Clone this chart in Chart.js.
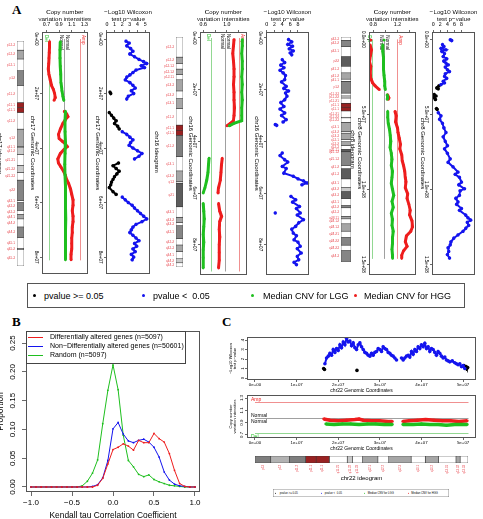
<!DOCTYPE html>
<html>
<head>
<meta charset="utf-8">
<title>CNV / Wilcoxon figure</title>
<script src="https://cdn.jsdelivr.net/npm/chart.js@4.4.1/dist/chart.umd.min.js"></script>
<style>
  html, body { margin: 0; padding: 0; background: #fff; }
  body { position: relative; width: 483px; height: 519px; overflow: hidden; font-family: "Liberation Sans", Arial, sans-serif; }
  canvas { position: absolute; }
  .tag { position: absolute; font: bold 13px "Liberation Serif", "Times New Roman", serif; line-height: 13px; }
  .key { position: absolute; border: 1px solid #555; box-sizing: border-box; white-space: pre; transform-origin: 0 0; background: #fff; }
  .key span { position: absolute; top: 50%; transform: translateY(-50%); line-height: 1; }
  .key i { position: absolute; top: 50%; border-radius: 50%; }
</style>
</head>
<body>
<div class="tag" style="left:12px;top:3px">A</div>
<div class="tag" style="left:12px;top:315px">B</div>
<div class="tag" style="left:222px;top:315px">C</div>
<script>
/* ============================================
   Figure: CNV medians, Wilcoxon p-values, ideograms
   Panel A plots are drawn landscape and turned 90deg
   ============================================ */

// --- Panel B: Kendall tau distribution ---
const tauBins = [-1, -0.9375, -0.875, -0.8125, -0.75, -0.6875, -0.625, -0.5625, -0.5, -0.4375, -0.375,
  -0.3125, -0.25, -0.1875, -0.125, -0.0625, 0, 0.0625, 0.125, 0.1875, 0.25, 0.3125, 0.375, 0.4375,
  0.5, 0.5625, 0.625, 0.6875, 0.75, 0.8125, 0.875, 0.9375, 1];
const diffProp = [0, 0, 0, 0, 0, 0, 0, 0, 0, 0, 0, 0, 0, 0.003, 0.015, 0.04, 0.065, 0.069, 0.075, 0.071,
  0.064, 0.081, 0.077, 0.077, 0.093, 0.084, 0.078, 0.058, 0.029, 0.006, 0.001, 0, 0];
const nonDiffProp = [0, 0, 0, 0, 0, 0, 0, 0, 0, 0, 0, 0, 0.001, 0.004, 0.016, 0.046, 0.101, 0.112, 0.092,
  0.08, 0.077, 0.081, 0.083, 0.078, 0.069, 0.052, 0.026, 0.012, 0.005, 0.002, 0.001, 0, 0];
const randomProp = [0, 0, 0, 0, 0, 0, 0, 0, 0, 0, 0.002, 0.01, 0.024, 0.047, 0.11, 0.168, 0.212, 0.169,
  0.09, 0.046, 0.035, 0.022, 0.018, 0.021, 0.013, 0.009, 0.006, 0.003, 0.002, 0.001, 0, 0, 0];
const seriesNames = ['Differentially altered genes (n=5097)', 'Non\u2212Differentially altered genes (n=50601)', 'Random (n=5097)'];
const tauTicks = [-1, -0.5, 0, 0.5, 1];
const tauTickLabels = ['\u22121.0', '\u22120.5', '0.0', '0.5', '1.0'];
const propTicks = [0, 0.05, 0.1, 0.15, 0.2, 0.25];
const propTickLabels = ['0.00', '0.05', '0.10', '0.15', '0.20', '0.25'];

// --- chr17 (Mb, value) ---
const chr17Hgg = [[1,0.75],[3,0.75],[5,0.745],[7,0.74],[9,0.735],[11,0.73],[13,0.74],[15,0.76],[17,0.78],[18.5,0.81],[20,0.83],[21.5,0.84],[22.5,0.82],null,
  [26.5,0.98],[27.5,1.02],[28.5,1.04],[29.5,1.0],[31,0.96],[33,0.92],[35,0.89],[36.5,0.9],[37.5,0.95],[38.5,1.0],[39.5,1.03],[40.5,0.98],[42,0.92],[44,0.88],
  [45.5,0.89],[47,0.93],[48.5,0.97],[50,1.0],[51.5,1.02],[53,1.05],[55,1.08],[57,1.1],[59,1.12],[61,1.12],[63,1.11],[65,1.12],[67,1.12],[69,1.11],[71,1.11],
  [73,1.1],[75,1.1],[77,1.1],[79,1.09],[81,1.09]];
const chr17Lgg = [[1,0.92],[4,0.915],[7,0.915],[10,0.92],[13,0.925],[16,0.93],[19,0.945],[21,0.96],[22.5,0.975],null,
  [26.5,1.0],[30,0.995],[34,0.995],[38,1.0],[42,0.995],[46,0.99],[50,0.995],[54,1.0],[58,1.0],[62,1.0],[66,1.005],[70,1.0],[74,1.0],[78,1.0],[81,1.0]];
const chr17Sig = [[0.8,2.5],[1.5,2.9],[2.5,2.6],[3.5,3.1],[4.5,3.4],[5.5,3.0],[6.5,3.6],[7.5,4.2],[8.3,4.8],[9,5.2],[9.8,4.5],[10.5,4.9],[11.4,3.8],[12.3,3.4],
  [13.2,3.0],[14,2.6],[15,2.4],[16,3.0],[17,3.4],[18,3.7],[19,3.2],[20,3.5],[21,2.8],[22,2.6],null,
  [34,2.0],[35,2.6],[36,3.0],[37,3.4],[38,3.1],[39,2.9],[40,3.4],[41,4.0],[42,4.6],[43,4.2],[44,3.6],null,
  [58,2.0],[59,2.4],[60,2.8],[61,3.3],[62,3.6],[63,4.0],[64,4.4],[65,4.8],[66,5.2],[67,4.6],[68,3.8],[69,3.4],[70,3.2],[71,3.0],[72,3.4],[73,3.8],[74,4.2],
  [75,3.6],[76,3.9],[77,3.4],[78,3.7],[79,3.2],[80,3.5],[81,3.3]];
const chr17NotSig = [[19.5,0.4],[20,0.5],null,[27,0.3],[28,0.6],[29,0.9],[30,1.2],[31,1.0],[32,1.4],[33,1.6],null,
  [45.5,1.5],[46.5,0.8],[47.5,1.2],[48.5,1.6],[49.5,1.3],[50.5,1.0],[51.5,0.8],[52.5,0.6],[53.5,0.5],[54.5,0.3],[56,0.8],[57,1.2]];
const chr17Ref = [0.75, 1.0, 1.24];
const chr17Ticks = [0, 20, 40, 60, 80];
const chr17TickLabels = ['0e+00', '2e+07', '4e+07', '6e+07', '8e+07'];
const chr17Bands = ['p13.3','p13.2','p13.1','p12','p11.2','p11.1','q11.1','q11.2','q12','q21.1','q21.2','q21.31','q21.32','q21.33','q22','q23.1','q23.2','q23.3','q24.1','q24.2','q24.3','q25.1','q25.2','q25.3'];
const chr17Start = [0,3.3,6.5,10.7,16.0,22.2,24.0,25.8,31.8,38.1,38.4,40.9,44.9,47.4,50.2,57.6,58.3,61.1,62.6,64.2,67.1,70.9,74.8,75.3];
const chr17End = [3.3,6.5,10.7,16.0,22.2,24.0,25.8,31.8,38.1,38.4,40.9,44.9,47.4,50.2,57.6,58.3,61.1,62.6,64.2,67.1,70.9,74.8,75.3,81.2];
const chr17Stain = ['gneg','gpos50','gneg','gpos75','gneg','acen','acen','gneg','gpos50','gneg','gpos25','gneg','gpos25','gneg','gpos75','gneg','gpos75','gneg','gpos50','gneg','gpos75','gneg','gpos25','gneg'];

// --- chr16 ---
const chr16Hgg = [[0.6,1.12],[3,1.11],[6,1.1],[9,1.11],[12,1.12],[15,1.12],[18,1.11],[21,1.12],[24,1.12],[27,1.13],[30,1.12],[32,1.11],[33,1.06],[34,1.0],null,
  [46.5,0.92],[49,0.91],[52,0.9],[55,0.89],[58,0.86],[60,0.85],null,[64,0.86],[67,0.88],[69,0.91],[71,0.88],[74,0.87],[77,0.88],[80,0.87],[83,0.87],[86,0.87],[89,0.86]];
const chr16Lgg = [[0.6,1.26],[3,1.26],[6,1.25],[9,1.26],[12,1.26],[15,1.25],[18,1.26],[21,1.25],[24,1.26],[27,1.25],[30,1.25],[32,1.25],[33,1.12],[34,1.04],null,
  [46.5,0.7],[49,0.69],[52,0.68],[55,0.66],[58,0.63],[60,0.6],null,[64,0.6],[67,0.61],[70,0.62],[73,0.61],[76,0.6],[79,0.61],[82,0.6],[85,0.6],[89,0.6]];
const chr16Sig = [[0.6,5.6],[1.5,6.4],[2.5,5.4],[3.2,6.6],[4.2,5.8],[5,6.8],[5.8,6.0],[6.5,6.4],null,
  [8.4,4.0],[9.5,4.6],[10.5,3.6],[11.5,4.4],[12.5,3.4],[13.5,4.2],[14.5,4.8],[16.1,4.6],[17,3.8],[18.7,5.0],[19.5,4.4],[20.5,5.6],[21.3,4.8],[22.5,5.2],
  [23.9,4.6],[25,3.6],[26.5,4.4],[27.5,3.4],[29,4.6],[30,3.8],[31.6,5.0],[32.5,4.2],null,[33.5,2.2],[33.8,2.6],null,
  [44.5,4.0],[45.5,3.4],[47.1,4.6],[48,5.4],[49.7,4.0],[50.5,5.0],[52.3,4.4],[53.5,6.8],[54.5,8.0],[55.3,9.4],[56.1,10.4],[56.8,9.0],null,
  [61.3,6.2],[62.6,7.4],[63.5,6.6],[65.2,8.4],[66,7.6],[67.7,8.6],[68.5,7.8],[70.3,9.4],[71.5,8.2],[72.9,7.4],[74,6.4],[75.5,6.8],[76.5,7.6],[78.1,7.0],
  [79,8.0],[80.6,8.6],[81.5,7.8],[83.2,8.8],[84.5,7.8],[85.8,8.2],[86.8,7.0],[87.7,7.6],null,[67.7,2.2]];
const chr16Ref = [0.744, 0.99, 1.224];
const chr16Ticks = [0, 20, 40, 60, 80];
const chr16TickLabels = ['0e+00', '2e+07', '4e+07', '6e+07', '8e+07'];
const chr16Bands = ['p13.3','p13.2','p13.13','p13.12','p13.11','p12.3','p12.2','p12.1','p11.2','p11.1','q11.1','q11.2','q12.1','q12.2','q13','q21','q22.1','q22.2','q22.3','q23.1','q23.2','q23.3','q24.1','q24.2','q24.3'];
const chr16Start = [0,7.9,10.5,12.6,14.8,16.8,21.2,24.2,28.1,34.6,36.6,38.6,47.0,52.6,56.7,57.4,66.7,70.8,72.9,74.1,79.2,81.7,84.2,87.1,88.7];
const chr16End = [7.9,10.5,12.6,14.8,16.8,21.2,24.2,28.1,34.6,36.6,38.6,47.0,52.6,56.7,57.4,66.7,70.8,72.9,74.1,79.2,81.7,84.2,87.1,88.7,90.35];
const chr16Stain = ['gneg','gpos50','gneg','gpos50','gneg','gpos50','gneg','gpos50','gneg','acen','acen','gvar','gneg','gpos50','gneg','gpos100','gneg','gpos50','gneg','gpos75','gneg','gpos50','gneg','gpos25','gneg'];

// --- chr8 ---
const chr8Hgg = [[0.5,0.76],null,[3.7,0.75],[7,0.77],[11.5,0.75],[15,0.74],[18,0.76],[22,0.75],[26,0.76],[29,0.79],[31,0.83],[33.5,0.9],null,
  [37,1.04],[39,1.06],[40,1.05],null,[48,1.16],[51,1.18],[55,1.17],[59,1.2],[62,1.21],[66,1.23],[70,1.25],[73,1.24],[77,1.27],[81,1.28],[84,1.3],[88,1.32],
  [92,1.33],[95,1.34],[99,1.33],[103,1.37],[106,1.36],[110,1.39],[114,1.41],[117,1.4],[121,1.44],[125,1.45],[128,1.42],[131,1.35],[135,1.33],[138,1.36],
  [141,1.3],[144,1.27],[146,1.27]];
const chr8Lgg = [[0.5,0.98],null,[3.7,0.96],[8,0.96],[12,0.97],[16,0.97],[20,0.97],[24,0.98],[28,0.99],[31,0.99],[33.5,1.0],null,[37,1.03],[39,1.04],[40,1.03],null,
  [48,1.04],[52,1.04],[56,1.05],[60,1.07],[64,1.08],[68,1.09],[72,1.08],[76,1.1],[80,1.11],[84,1.1],[88,1.12],[92,1.11],[96,1.1],[100,1.12],[104,1.14],
  [108,1.11],[112,1.13],[116,1.1],[120,1.12],[124,1.11],[128,1.13],[132,1.12],[136,1.12],[140,1.11],[144,1.12],[146,1.12]];
const chr8Sig = [[0.3,4.8],[0.8,5.2],null,[3.5,2.6],[4.8,3.0],[6,2.2],[7,3.6],[8,2.4],[9.5,3.2],[11.5,2.8],[13,3.8],[14.5,3.0],[15.9,3.6],[17,4.2],[18.5,3.4],
  [20.3,4.0],[21.5,4.6],[23,3.4],[24.7,3.2],[26,3.8],[28,2.8],[29,3.2],[30.2,2.2],null,
  [48.9,1.4],[51,2.2],[53.3,1.8],[56,2.6],[59,3.0],[62.1,3.6],[65,2.8],[68,3.4],[70.9,4.0],[73,3.2],[76,4.0],[79.7,4.8],[82,4.2],[85,5.6],[88.5,7.0],[90,6.2],
  [92,7.4],[95.2,8.0],[97,7.2],[99.6,8.8],[101,7.6],[104,7.4],[106,6.4],[108.4,7.0],[110,6.6],[112.8,8.0],[114,7.4],[117.2,9.2],[119,9.8],[120.5,10.6],
  [122,9.6],[124,10.0],[126,9.2],[128,8.4],[130.4,7.0],[132.6,5.8],[135,5.0],[137,4.8],[139,4.2],[141.4,4.4],[143.5,4.0],[145.8,4.6]];
const chr8NotSig = [[31,1.6],[32.4,1.0],[33,1.4],null,[36.8,0.3],[37.8,0.8],[38.8,0.2],[40.1,0.6],null,[46.2,0.9],[46.7,1.1]];
const chr8Ref = [0.79, 1.0, 1.21];
const chr8Ticks = [0, 50, 100, 150];
const chr8TickLabels = ['0.0e+00', '5.0e+07', '1.0e+08', '1.5e+08'];
const chr8Bands = ['p23.3','p23.2','p23.1','p22','p21.3','p21.2','p21.1','p12','p11.23','p11.22','p11.21','p11.1','q11.1','q11.21','q11.22','q11.23','q12.1','q12.2','q12.3','q13.1','q13.2','q13.3','q21.11','q21.12','q21.13','q21.2','q21.3','q22.1','q22.2','q22.3','q23.1','q23.2','q23.3','q24.11','q24.12','q24.13','q24.21','q24.22','q24.23','q24.3'];
const chr8Start = [0,2.2,6.2,12.7,19.0,23.3,27.4,28.8,36.5,38.3,39.7,43.1,45.6,48.1,52.2,52.6,55.5,61.6,62.5,66.6,68.1,70.6,73.1,74.6,74.7,83.5,85.6,92.3,97.9,100.5,105.1,109.6,111.1,116.7,118.3,121.5,126.3,130.4,135.4,138.9];
const chr8End = [2.2,6.2,12.7,19.0,23.3,27.4,28.8,36.5,38.3,39.7,43.1,45.6,48.1,52.2,52.6,55.5,61.6,62.5,66.6,68.1,70.6,73.1,74.6,74.7,83.5,85.6,92.3,97.9,100.5,105.1,109.6,111.1,116.7,118.3,121.5,126.3,130.4,135.4,138.9,146.36];
const chr8Stain = ['gneg','gpos75','gneg','gpos100','gneg','gpos50','gneg','gpos75','gneg','gpos25','gneg','acen','acen','gneg','gpos75','gneg','gpos50','gneg','gpos50','gneg','gpos50','gneg','gpos100','gneg','gpos75','gneg','gpos100','gneg','gpos25','gpos100','gneg','gpos75','gneg','gpos50','gneg','gpos50','gneg','gpos75','gneg','gpos75'];

// --- chr22 (panel C) ---
const chr22Hgg = [[16.5,0.96],[18,0.94],[20,0.93],[22,0.94],[24,0.95],[25,0.96],[26,0.94],[28,0.93],[30,0.93],[32,0.92],[33,0.92],null,
  [35.5,0.92],[37,0.93],[39,0.94],[41,0.95],[43,0.94],[45,0.93],[47,0.93],[49,0.92],[51,0.93]];
const chr22Lgg = [[17,0.88],[19,0.87],[21,0.88],[23,0.88],[25,0.87],[27,0.88],[29,0.88],[31,0.87],[33,0.87],null,
  [35.5,0.87],[38,0.87],[40,0.88],[42,0.87],[44,0.87],[46,0.86],[48,0.87],[51,0.87]];
const chr22Sig = [[16.8,1.5],[17.2,2.1],[17.6,2.3],[18,2.6],[18.4,2.4],[18.8,3.0],[19.2,2.7],[19.6,3.1],[20,2.9],[20.4,3.5],[20.8,3.2],[21.2,3.8],[21.6,3.5],
  [22,4.2],[22.4,3.8],[22.8,3.9],[23.2,3.4],[23.6,3.7],[24,3.2],[24.4,3.0],[24.8,3.5],[25.2,3.7],[25.6,3.3],[26,3.0],[26.4,2.7],[26.8,2.6],[27.2,2.4],
  [27.6,2.3],[28,2.6],[28.4,2.4],[28.8,2.7],[29.2,2.8],[29.6,3.1],[30,3.0],[30.4,2.8],[30.8,3.3],[31.2,3.1],[31.6,3.0],[32,2.7],[32.4,2.6],[32.8,2.4],
  [33.2,2.3],[33.6,2.1],[34,1.9],null,[35.2,2.1],[35.6,1.9],[36,2.1],[36.4,2.3],[36.8,2.4],[37.2,2.2],[37.6,2.8],[38,2.5],[38.4,3.0],[38.8,2.8],[39.2,3.3],
  [39.6,3.1],[40,3.5],[40.4,3.3],[40.8,3.65],[41.2,3.1],[41.6,3.3],[42,2.8],[42.4,3.1],[42.8,3.0],[43.2,2.7],[43.6,2.4],[44,2.8],[44.4,2.6],[44.8,2.3],
  [45.2,2.1],[45.6,2.2],[46,1.9],[46.4,1.8],[46.8,1.7],[47.4,1.8],[48,1.6],[48.4,1.5],[48.8,1.4],[49.2,1.5],[49.6,1.2],[50,1.3],[50.4,1.0]];
const chr22NotSig = [[16.5,1.0],[16.7,0.9],null,[24.5,0.8],null,[50.2,1.3],[50.5,1.1],[50.7,1.2],[50.9,1.0],[51.1,1.1]];
const chr22Ref = [0.73, 0.98, 1.24];
const chr22Ticks = [0, 10, 20, 30, 40, 50];
const chr22TickLabels = ['0e+00', '1e+07', '2e+07', '3e+07', '4e+07', '5e+07'];
const chr22Bands = ['p13','p12','p11.2','p11.1','q11.1','q11.21','q11.22','q11.23','q12.1','q12.2','q12.3','q13.1','q13.2','q13.31','q13.32','q13.33'];
const chr22Start = [0,3.8,8.3,12.2,14.7,17.9,22.2,23.5,25.9,29.6,32.2,37.6,41.0,44.2,48.4,49.4];
const chr22End = [3.8,8.3,12.2,14.7,17.9,22.2,23.5,25.9,29.6,32.2,37.6,41.0,44.2,48.4,49.4,51.3];
const chr22Stain = ['gvar','stalk','gvar','acen','acen','gneg','gpos25','gneg','gpos50','gneg','gpos50','gneg','gpos50','gneg','gpos50','gneg'];

// --- legend ---
const keyLabels = ['pvalue >= 0.05', 'pvalue <  0.05', 'Median CNV for LGG', 'Median CNV for HGG'];

// ---------- styling ----------
const FONT = '"Liberation Sans", Arial, Helvetica, sans-serif';
Chart.defaults.font.family = FONT;
Chart.defaults.color = '#000';
Chart.defaults.animation = false;

const RED = '#ee1d1d', GREEN = '#1fbf1f', BLUE = '#1414ee', BLACK = '#000000';
const BAND_RED = '#e8484f';
const STAIN = { gneg: '#ffffff', gpos25: '#cacaca', gpos50: '#a6a6a6', gpos75: '#858585', gpos100: '#5c5c5c', acen: '#992222', gvar: '#7e7e7e', stalk: '#b2b2b2' };
const keyColors = [BLACK, BLUE, GREEN, RED];
const cnvTitle = ['Copy number', 'variation intensities'];
const pvTitle = ['\u2212Log10 Wilcoxon', 'test p\u2212value'];

// --- plugins ---
const boxPlugin = {
  id: 'rBox',
  afterDatasetsDraw(chart) {
    const { ctx, chartArea: a } = chart;
    ctx.save();
    ctx.strokeStyle = '#555';
    ctx.lineWidth = 1;
    const l = Math.round(a.left), t = Math.round(a.top);
    ctx.strokeRect(l + 0.5, t + 0.5, Math.round(a.right) - l - 1, Math.round(a.bottom) - t - 1);
    ctx.restore();
  }
};

const refLinePlugin = {
  id: 'refLines',
  beforeDatasetsDraw(chart, args, o) {
    if (!o.lines) return;
    const { ctx, scales: { x, y } } = chart;
    const x0 = x.getPixelForValue(o.from), x1 = x.getPixelForValue(o.to);
    ctx.save();
    ctx.font = `${o.size}px ${FONT}`;
    o.lines.forEach(l => {
      const py = Math.round(y.getPixelForValue(l.value)) + 0.5;
      ctx.strokeStyle = l.color;
      ctx.lineWidth = 1;
      ctx.beginPath(); ctx.moveTo(x0, py); ctx.lineTo(x1, py); ctx.stroke();
      l.labels.forEach(t => {
        ctx.fillStyle = t.color;
        ctx.textBaseline = t.above ? 'bottom' : 'top';
        ctx.fillText(t.text, x0 + o.dx, t.above ? py - 0.5 : py + 1);
      });
    });
    ctx.restore();
  }
};

const insetKeyPlugin = {
  id: 'insetKey',
  afterDatasetsDraw(chart, args, o) {
    if (!o.rows) return;
    const { ctx, chartArea: a } = chart;
    const x = Math.round(a.left) + 0.5, y = Math.round(a.top) + 0.5;
    ctx.save();
    ctx.fillStyle = '#fff';
    ctx.fillRect(x, y, o.width, o.height);
    ctx.strokeStyle = '#444';
    ctx.lineWidth = 1;
    ctx.strokeRect(x, y, o.width, o.height);
    ctx.font = `${o.size}px ${FONT}`;
    ctx.textBaseline = 'middle';
    chart.data.datasets.forEach((ds, i) => {
      const ry = Math.round(a.top + o.rows[i]) + 0.5;
      ctx.strokeStyle = ds.borderColor;
      ctx.beginPath(); ctx.moveTo(a.left + o.lineFrom, ry); ctx.lineTo(a.left + o.lineTo, ry); ctx.stroke();
      ctx.fillStyle = '#000';
      ctx.fillText(ds.label, a.left + o.textX, ry);
    });
    ctx.restore();
  }
};

// --- helpers ---
// canvas in page coordinates; turned ones are drawn landscape (w/h swapped) then rotated clockwise
function canvasAt(left, top, w, h, turned) {
  const c = document.createElement('canvas');
  const cw = turned ? h : w, ch = turned ? w : h;
  c.width = cw; c.height = ch;
  c.style.width = cw + 'px'; c.style.height = ch + 'px';
  c.style.left = left + 'px'; c.style.top = top + 'px';
  if (turned) {
    c.style.transformOrigin = '0 0';
    c.style.transform = `translateX(${w}px) rotate(90deg)`;
  }
  document.body.appendChild(c);
  return c;
}

function pts(pairs) {
  return pairs.map(p => p ? { x: p[0], y: p[1] } : { x: null, y: null });
}

// dense dot cloud (p-values)
function cloud(pairs, color) {
  return { data: pts(pairs), showLine: true, spanGaps: false, borderColor: color, borderWidth: 2,
    pointRadius: 1.8, pointBackgroundColor: color, pointBorderWidth: 0 };
}

// median CNV trace
function trace(pairs, color, w) {
  return { data: pts(pairs), showLine: true, spanGaps: false, borderColor: color, borderWidth: w || 3,
    pointRadius: 1.4, pointBackgroundColor: color, pointBorderWidth: 0 };
}

function refSet(vals, from, to, size) {
  const [del, normal, amp] = vals;
  return {
    from, to, size, dx: -4,
    lines: [
      { value: del, color: '#92d892', labels: [{ text: 'Del', color: GREEN, above: false }] },
      { value: normal, color: '#a0a0a0', labels: [{ text: 'Normal', color: BLACK, above: true }, { text: 'Normal', color: BLACK, above: false }] },
      { value: amp, color: '#f09090', labels: [{ text: 'Amp', color: RED, above: true }] }
    ]
  };
}

// R-like axis: outside ticks, fixed band size, explicit tick values
function rAxis(o, vertical) {
  return {
    type: 'linear', min: o.min, max: o.max, bounds: 'data',
    afterBuildTicks: s => { s.ticks = o.ticks.map(v => ({ value: v })); },
    afterFit: s => { if (vertical) s.width = o.size; else s.height = o.size; },
    grid: { drawOnChartArea: false, tickLength: o.tick ?? 2, color: '#444', lineWidth: 0.8 },
    border: { display: false },
    ticks: {
      autoSkip: false, padding: o.pad ?? 1, font: { size: o.fs },
      minRotation: vertical ? 90 : 0, maxRotation: vertical ? 90 : 0,
      crossAlign: vertical ? 'center' : 'near',
      callback: (v, i) => o.labels[i]
    },
    title: { display: !!o.title, text: o.title, font: { size: o.tfs, lineHeight: o.tlh ?? 1.2 }, padding: o.tpad ?? 0 }
  };
}

function rScatter(canvas, { datasets, x, y, padding, ref }) {
  return new Chart(canvas, {
    type: 'scatter',
    data: { datasets },
    options: {
      responsive: false, devicePixelRatio: 1, animation: false, events: [],
      layout: { padding },
      plugins: { legend: { display: false }, tooltip: { enabled: false }, refLines: ref || {} },
      scales: { x: rAxis(x, false), y: rAxis(y, true) }
    },
    plugins: [refLinePlugin, boxPlugin]
  });
}

function ideogram(canvas, { names, starts, ends, stains, len, padding, size, fs, title, tfs, tpad, topTitle, topSize, topPad }) {
  const mids = starts.map((s, i) => (s + ends[i]) / 2);
  const scales = {
    x: {
      type: 'linear', min: 0, max: len, position: 'bottom', bounds: 'data',
      afterBuildTicks: s => { s.ticks = mids.map(v => ({ value: v })); },
      afterFit: s => { s.height = size; },
      grid: { display: false, drawTicks: false },
      border: { display: false },
      ticks: { autoSkip: false, color: BAND_RED, font: { size: fs }, padding: 2, minRotation: 90, maxRotation: 90, callback: (v, i) => names[i] },
      title: { display: !!title, text: title, font: { size: tfs }, padding: tpad || 0 }
    },
    y: { display: false }
  };
  if (topTitle) {
    scales.x2 = {
      type: 'linear', min: 0, max: len, position: 'top',
      afterFit: s => { s.height = topSize; },
      grid: { display: false, drawTicks: false }, border: { display: false },
      ticks: { display: false },
      title: { display: true, text: topTitle, font: { size: tfs }, padding: topPad || 0 }
    };
  }
  return new Chart(canvas, {
    type: 'bar',
    data: {
      labels: [''],
      datasets: starts.map((s, i) => ({
        data: [[s, ends[i]]], backgroundColor: STAIN[stains[i]],
        borderColor: '#333', borderWidth: 0.6, borderSkipped: false,
        grouped: false, barPercentage: 1, categoryPercentage: 1
      }))
    },
    options: {
      indexAxis: 'y', responsive: false, devicePixelRatio: 1, animation: false, events: [],
      layout: { padding },
      plugins: { legend: { display: false }, tooltip: { enabled: false } },
      scales
    }
  });
}

function keyBox(left, top, w, h, fs, dotX, textX, dot, scale) {
  const d = document.createElement('div');
  d.className = 'key';
  Object.assign(d.style, { left: left + 'px', top: top + 'px', width: w + 'px', height: h + 'px', fontSize: fs + 'px' });
  if (scale) d.style.transform = `scale(${scale})`;
  keyLabels.forEach((t, i) => {
    const b = document.createElement('i');
    Object.assign(b.style, { left: (dotX[i] - dot / 2) + 'px', width: dot + 'px', height: dot + 'px', marginTop: (-dot / 2) + 'px', background: keyColors[i] });
    const s = document.createElement('span');
    s.textContent = t;
    s.style.left = textX[i] + 'px';
    d.appendChild(b); d.appendChild(s);
  });
  document.body.appendChild(d);
}

// ---------- panel A ----------
const genomeAxis = (min, max, ticks, labels, title, size) =>
  ({ min, max, ticks, labels, size, fs: 4.6, tick: 2, pad: 0.5, title, tfs: 6, tpad: 0.6 });
const valueAxis = (min, max, ticks, labels, title, pad) =>
  ({ min, max, ticks, labels, size: 32, fs: 5.3, tick: 2, pad, title, tfs: 6.2, tlh: 1.13, tpad: 8.5 });

function chromosomeColumn(c) {
  ideogram(canvasAt(c.id.left, 0, c.id.w, 280, true), {
    names: c.bands, starts: c.start, ends: c.end, stains: c.stain, len: c.end[c.end.length - 1],
    padding: c.id.padding, size: c.id.size, fs: 3.3, title: c.id.title, tfs: 6, tpad: c.id.tpad,
    topTitle: c.id.topTitle, topSize: c.id.topSize, topPad: c.id.topPad
  });
  rScatter(canvasAt(c.cnv.left, 0, c.cnv.w, 280, true), {
    datasets: [trace(c.lgg, GREEN), trace(c.hgg, RED)],
    x: genomeAxis(c.gmin, c.gmax, c.ticks, c.tickLabels, c.gtitle, c.cnv.size),
    y: valueAxis(c.cnv.min, c.cnv.max, c.cnv.ticks, c.cnv.labels, cnvTitle, 1.3),
    padding: c.cnv.padding,
    ref: refSet(c.ref, 0, c.end[c.end.length - 1], 4.6)
  });
  rScatter(canvasAt(c.pv.left, 0, c.pv.w, 280, true), {
    datasets: [cloud(c.sig, BLUE), cloud(c.notSig, BLACK)],
    x: genomeAxis(c.gmin, c.gmax, c.ticks, c.tickLabels, c.gtitle, c.pv.size),
    y: valueAxis(c.pv.min, c.pv.max, c.pv.ticks, c.pv.ticks.map(String), pvTitle, 3.5),
    padding: c.pv.padding
  });
}

chromosomeColumn({
  bands: chr17Bands, start: chr17Start, end: chr17End, stain: chr17Stain,
  lgg: chr17Lgg, hgg: chr17Hgg, sig: chr17Sig, notSig: chr17NotSig, ref: chr17Ref,
  ticks: chr17Ticks, tickLabels: chr17TickLabels, gmin: -2.57, gmax: 86.2, gtitle: 'chr17 Genomic Coordinates',
  id: { left: -6, w: 33, padding: { left: 41, right: 14, top: 3 }, size: 23, title: 'chr17 ideogram', tpad: 2 },
  cnv: { left: 28, w: 64, size: 14, padding: { top: 2, right: 6 }, min: 0.63, max: 1.35, ticks: [0.7, 0.9, 1.1, 1.3], labels: ['0.7', '0.9', '1.1', '1.3'] },
  pv: { left: 93, w: 64, size: 13, padding: { top: 3, right: 6 }, min: -0.12, max: 5.68, ticks: [0, 1, 2, 3, 4, 5] }
});

chromosomeColumn({
  bands: chr16Bands, start: chr16Start, end: chr16End, stain: chr16Stain,
  lgg: chr16Lgg, hgg: chr16Hgg, sig: chr16Sig, notSig: [], ref: chr16Ref,
  ticks: chr16Ticks, tickLabels: chr16TickLabels, gmin: -2.32, gmax: 91.7, gtitle: 'chr16 Genomic Coordinates',
  id: { left: 150, w: 36, padding: { left: 37, right: 13, top: 3 }, size: 26, title: 'chr16 ideogram', tpad: 2.8 },
  cnv: { left: 186, w: 65, size: 14, padding: { top: 2, right: 5 }, min: 0.547, max: 1.331, ticks: [0.6, 0.8, 1.0, 1.2], labels: ['0.6', '', '1.0', ''] },
  pv: { left: 252, w: 64, size: 14, padding: { top: 3, right: 5 }, min: -0.16, max: 10.9, ticks: [0, 2, 4, 6, 8] }
});

chromosomeColumn({
  bands: chr8Bands, start: chr8Start, end: chr8End, stain: chr8Stain,
  lgg: chr8Lgg, hgg: chr8Hgg, sig: chr8Sig, notSig: chr8NotSig, ref: chr8Ref,
  ticks: chr8Ticks, tickLabels: chr8TickLabels, gmin: -4.9, gmax: 157.1, gtitle: 'chr8 Genomic Coordinates',
  id: { left: 317, w: 44, padding: { left: 37, right: 18, top: 0 }, size: 24, topTitle: 'chr8 ideogram', topSize: 10, topPad: 4.6 },
  cnv: { left: 355, w: 65, size: 14, padding: { top: 3, right: 5 }, min: 0.731, max: 1.499, ticks: [0.8, 1.0, 1.2, 1.4], labels: ['0.8', '', '1.2', ''] },
  pv: { left: 418, w: 64, size: 14, padding: { top: 4, right: 5 }, min: -0.35, max: 11.9, ticks: [0, 2, 4, 6, 8] }
});

keyBox(27, 283, 438, 25, 9, [6, 115, 224, 327], [16, 125, 235, 336], 3);

// ---------- panel B ----------
new Chart(canvasAt(-5, 325, 210, 200, false), {
  type: 'line',
  data: {
    datasets: [diffProp, nonDiffProp, randomProp].map((vals, i) => ({
      label: seriesNames[i],
      data: tauBins.map((t, j) => ({ x: t, y: vals[j] })),
      borderColor: [RED, BLUE, GREEN][i], backgroundColor: [RED, BLUE, GREEN][i],
      borderWidth: 1, pointRadius: 0.9, pointBorderWidth: 0, tension: 0
    }))
  },
  options: {
    responsive: false, devicePixelRatio: 1, animation: false, events: [],
    layout: { padding: { top: 6, right: 5 } },
    plugins: {
      legend: { display: false }, tooltip: { enabled: false },
      insetKey: { width: 159, height: 32, rows: [6, 15, 24], lineFrom: 2, lineTo: 17, textX: 24, size: 7 }
    },
    scales: {
      x: rAxis({ min: -1.061, max: 1.061, ticks: tauTicks, labels: tauTickLabels, size: 33, fs: 8, tick: 4, pad: 2,
        title: 'Kendall tau Correlation Coefficient', tfs: 8.4, tpad: 4 }, false),
      y: rAxis({ min: -0.0087, max: 0.271, ticks: propTicks, labels: propTickLabels, size: 31, fs: 8, tick: 4, pad: 1.2,
        title: 'Proportion', tfs: 8.4, tpad: 1 }, true)
    }
  },
  plugins: [boxPlugin, insetKeyPlugin]
});

// ---------- panel C ----------
const c22x = (size) => ({ min: -1.92, max: 53.1, ticks: chr22Ticks, labels: chr22TickLabels, size, fs: 4.4, tick: 2, pad: 0.5,
  title: 'chr22 Genomic Coordinates', tfs: 5 });

rScatter(canvasAt(226, 330, 254, 64, false), {
  datasets: [cloud(chr22Sig, BLUE), cloud(chr22NotSig, BLACK)],
  x: c22x(14),
  y: { min: -0.21, max: 4.32, ticks: [0, 1, 2, 3, 4], labels: ['0', '1', '2', '3', '4'], size: 21, fs: 4.4, tick: 2, pad: 0.8,
    title: pvTitle, tfs: 4, tlh: 1.1, tpad: 2.6 },
  padding: { top: 7, right: 4 }
});

rScatter(canvasAt(226, 391, 254, 61, false), {
  datasets: [trace(chr22Lgg, GREEN, 3.5), trace(chr22Hgg, RED, 3.5)],
  x: c22x(14),
  y: { min: 0.651, max: 1.349, ticks: [0.7, 0.9, 1.1, 1.3], labels: ['0.7', '0.9', '1.1', '1.3'], size: 21, fs: 4.4, tick: 2, pad: 0,
    title: cnvTitle, tfs: 4, tlh: 1.1, tpad: 2.6 },
  padding: { top: 4, right: 4 },
  ref: refSet(chr22Ref, 0, 51.3, 5)
});

ideogram(canvasAt(250, 452, 225, 33, false), {
  names: chr22Bands, starts: chr22Start, ends: chr22End, stains: chr22Stain, len: 51.3,
  padding: { left: 5, right: 7, top: 4 }, size: 22, fs: 2.8, title: 'chr22 ideogram', tfs: 6, tpad: 3
});

keyBox(273, 489, 528, 24, 8.25, [6, 144, 273, 405], [19, 154, 283, 414], 3, 1 / 3);
</script>
</body>
</html>
